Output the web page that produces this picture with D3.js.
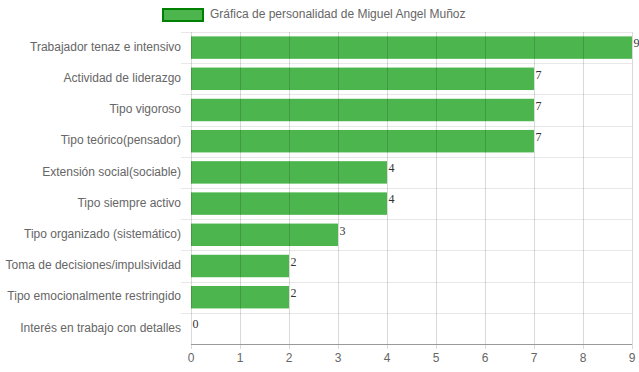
<!DOCTYPE html>
<html>
<head>
<meta charset="utf-8">
<script src="https://cdn.jsdelivr.net/npm/d3@7"></script>
<style>
  body { margin: 0; background: #fff; }
  text { font-family: "Liberation Sans", Arial, Helvetica, sans-serif; }
</style>
</head>
<body>
<svg width="639" height="372"></svg>
<script>
var categories = [
  "Trabajador tenaz e intensivo",
  "Actividad de liderazgo",
  "Tipo vigoroso",
  "Tipo teórico(pensador)",
  "Extensión social(sociable)",
  "Tipo siempre activo",
  "Tipo organizado (sistemático)",
  "Toma de decisiones/impulsividad",
  "Tipo emocionalmente restringido",
  "Interés en trabajo con detalles"
];
var values = [9, 7, 7, 7, 4, 4, 3, 2, 2, 0];
var xTicks = [0, 1, 2, 3, 4, 5, 6, 7, 8, 9];
var seriesName = "Gráfica de personalidad de Miguel Angel Muñoz";

var svg = d3.select("svg");
var plotLeft = 191, plotRight = 632, plotTop = 32, plotBottom = 344;

var x = d3.scaleLinear().domain([0, 9]).range([plotLeft, plotRight]);
var y = d3.scaleBand().domain(categories).range([plotTop, plotBottom]).padding(0);

// horizontal grid lines (between categories)
var hLines = categories.map(function(c){ return y(c); });
svg.selectAll(".hgrid")
  .data(hLines)
  .enter().append("line")
  .attr("x1", plotLeft - 10).attr("x2", plotRight)
  .attr("y1", function(d){ return Math.round(d) + 0.5; })
  .attr("y2", function(d){ return Math.round(d) + 0.5; })
  .style("stroke", "#e8e8e8");

// bars
var bh = y.bandwidth() * 0.72;
svg.selectAll(".bar")
  .data(values)
  .enter().append("rect")
  .attr("x", x(0))
  .attr("y", function(d, i){ return y(categories[i]) + (y.bandwidth() - bh) / 2; })
  .attr("width", function(d){ return x(d) - x(0); })
  .attr("height", bh)
  .style("fill", "#4db54d");

// vertical grid lines on top of bars
svg.selectAll(".vgrid")
  .data(xTicks)
  .enter().append("line")
  .attr("x1", function(d){ return Math.round(x(d)) + 0.5; })
  .attr("x2", function(d){ return Math.round(x(d)) + 0.5; })
  .attr("y1", plotTop).attr("y2", plotBottom + 5)
  .style("stroke", "rgba(0,0,0,0.15)");

// x axis line
svg.append("line")
  .attr("x1", plotLeft).attr("x2", plotRight)
  .attr("y1", plotBottom + 0.5).attr("y2", plotBottom + 0.5)
  .style("stroke", "#999");

// x tick labels
svg.selectAll(".xlab")
  .data(xTicks)
  .enter().append("text")
  .attr("x", function(d){ return x(d); })
  .attr("y", 359)
  .attr("text-anchor", "middle")
  .attr("dominant-baseline", "middle")
  .style("font-size", "12px")
  .style("fill", "#666")
  .text(function(d){ return d; });

// category labels
svg.selectAll(".ylab")
  .data(categories)
  .enter().append("text")
  .attr("x", 181)
  .attr("y", function(d){ return y(d) + y.bandwidth() / 2; })
  .attr("text-anchor", "end")
  .attr("dominant-baseline", "middle")
  .style("font-size", "12px")
  .style("fill", "#666")
  .text(function(d){ return d; });

// value labels
svg.selectAll(".vlab")
  .data(values)
  .enter().append("text")
  .attr("x", function(d){ return x(d) + 1.5; })
  .attr("y", function(d, i){ return y(categories[i]) + y.bandwidth() / 2 - 3; })
  .attr("dominant-baseline", "middle")
  .style("font-family", "'Liberation Serif', 'Times New Roman', serif")
  .style("font-size", "12px")
  .style("fill", "#333")
  .text(function(d){ return d; });

// legend
svg.append("rect")
  .attr("x", 163).attr("y", 9)
  .attr("width", 40).attr("height", 12)
  .style("fill", "#4db54d")
  .style("stroke", "#008000")
  .style("stroke-width", 2);
svg.append("text")
  .attr("x", 210).attr("y", 15)
  .attr("dominant-baseline", "middle")
  .style("font-size", "12px")
  .style("fill", "#666")
  .text(seriesName);
</script>
</body>
</html>
